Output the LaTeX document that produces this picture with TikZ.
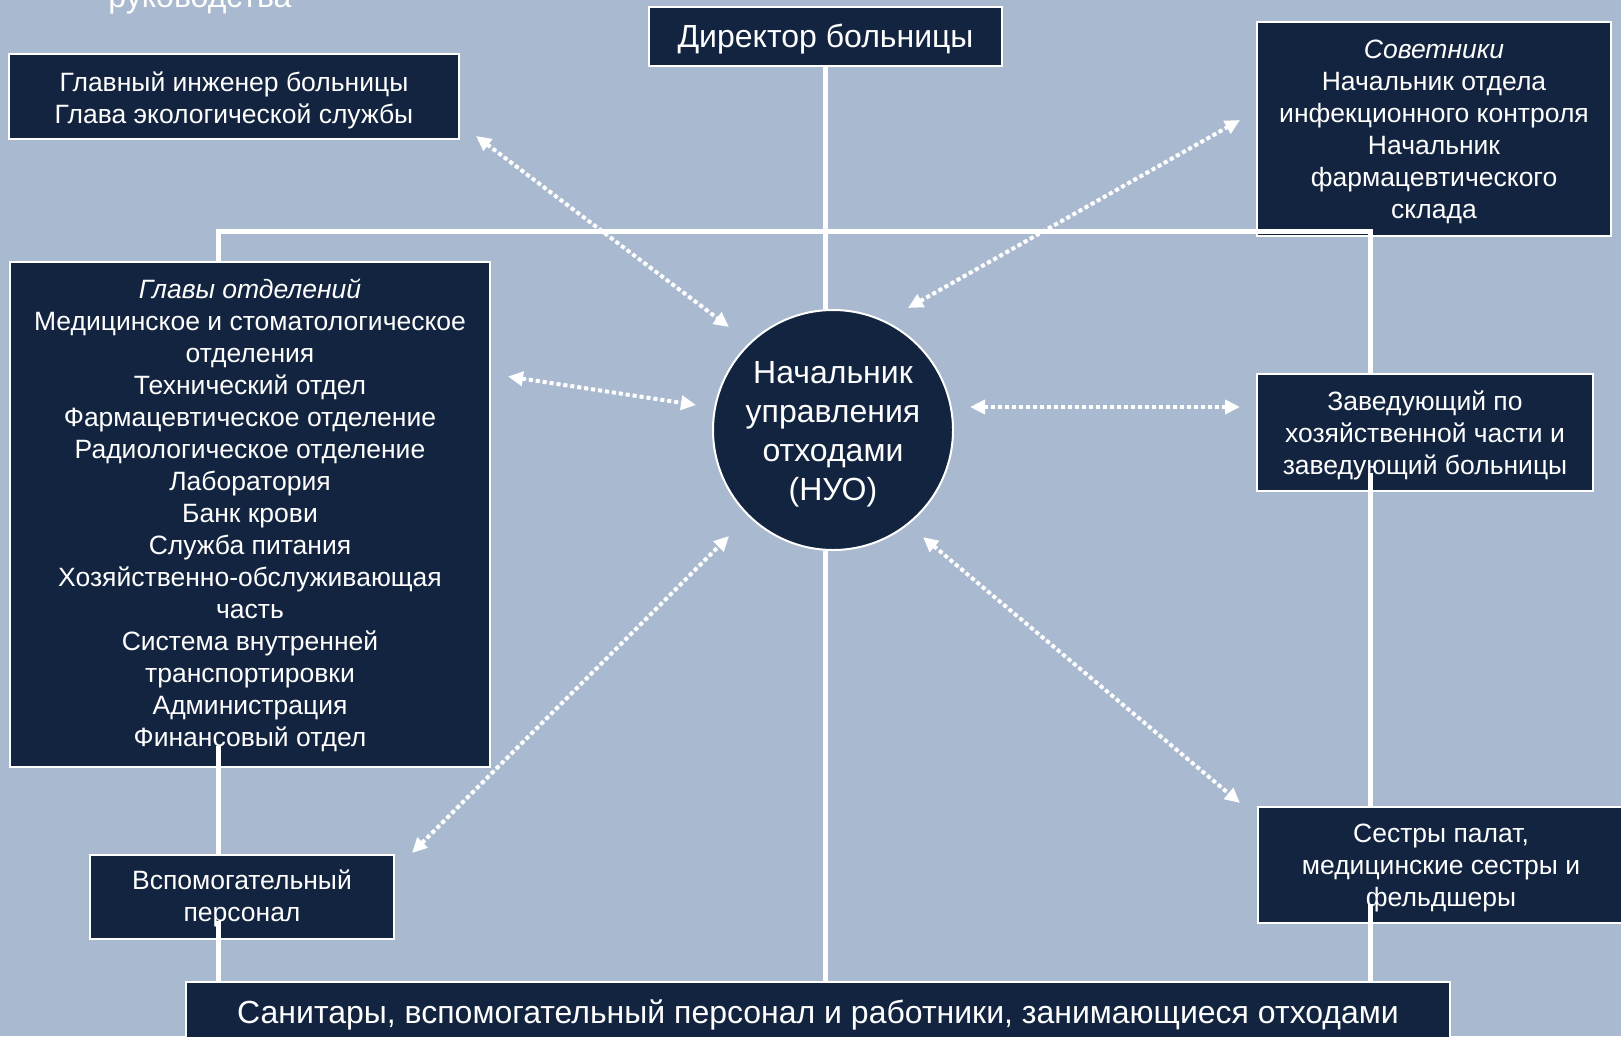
\documentclass[tikz,border=0pt]{standalone}
\usepackage{fontspec}
\setmainfont{Liberation Sans}
\usepackage{xcolor}
\usetikzlibrary{arrows.meta,calc}
\definecolor{cBack}{HTML}{A9B9CF}
\definecolor{cBox}{HTML}{12243F}
\newcommand{\lift}[1]{\rule{0pt}{\dimexpr 0.72em+#1*2\relax}}
\tikzset{
  box/.style  ={draw=white, line width=2pt, fill=cBox, text=white, align=center,
                inner sep=0pt, font=\fontsize{26.5}{32}\selectfont},
  hub/.style  ={box, circle, minimum size=240pt, font=\fontsize{32}{39}\selectfont},
  big/.style  ={font=\fontsize{32}{38}\selectfont},
  link/.style ={draw=white, line width=5pt},
  flow/.style ={{Triangle[length=15pt,width=14pt]}-{Triangle[length=15pt,width=14pt]},
                draw=white, fill=white, line width=4pt, dash pattern=on 4pt off 3pt},
}

\begin{document}
\begin{tikzpicture}[x=1pt,y=-1pt]
    \useasboundingbox (0,0) rectangle (1621,1036);
    \clip (0,0) rectangle (1621,1036);
    \fill[cBack] (0,0) rectangle (1621,1036);
    \node[big, text=white, anchor=base] (ttl) at (200,7) {руководства};
    \node[box, big, minimum width=353pt, minimum height=59pt] (dir) at (825.5,36.5) {\lift{3pt}Директор больницы};
    \node[box, minimum width=450pt, minimum height=85pt] (eng) at (234,96.5) {\lift{4pt}Главный инженер больницы\\Глава экологической службы};
    \node[box, minimum width=354pt, minimum height=214pt] (adv) at (1434,129) {\lift{3pt}\textit{Советники}\\Начальник отдела\\инфекционного контроля\\Начальник\\фармацевтического\\склада};
    \node[box, minimum width=480pt, minimum height=505pt] (heads) at (250,514.5) {\lift{1pt}\textit{Главы отделений}\\Медицинское и стоматологическое\\отделения\\Технический отдел\\Фармацевтическое отделение\\Радиологическое отделение\\Лаборатория\\Банк крови\\Служба питания\\Хозяйственно-обслуживающая\\часть\\Система внутренней\\транспортировки\\Администрация\\Финансовый отдел};
    \node[hub] (nuo) at (833,430) {\lift{4pt}Начальник\\управления\\отходами\\(НУО)};
    \node[box, minimum width=336pt, minimum height=117pt] (mgr) at (1425,432) {\lift{4pt}Заведующий по\\хозяйственной части и\\заведующий больницы};
    \node[box, minimum width=304pt, minimum height=84pt] (aux) at (242,897) {\lift{2pt}Вспомогательный\\персонал};
    \node[box, minimum width=366pt, minimum height=116pt] (nurse) at (1441,865) {\lift{3pt}Сестры палат,\\медицинские сестры и\\фельдшеры};
    \node[box, big, minimum width=1264pt, minimum height=66pt] (san) at (818,1015) {Санитары, вспомогательный персонал и работники, занимающиеся отходами};
    % solid links
    \coordinate (busL) at (218,231);
    \coordinate (busR) at (1370,231);
    \draw[link] (heads.north -| busL) -- (busL) -- (busR) -- (mgr.north -| busR);
    \draw[link] (dir.south) -- (dir.south |- nuo.north);
    \draw[link] (dir.south |- nuo.south) -- (dir.south |- san.north);
    \draw[link] ($(heads.south -| busL)+(0,-22)$) -- (aux.north -| busL);
    \draw[link] ($(aux.south -| busL)+(0,-19)$) -- (san.north -| busL);
    \draw[link] ($(mgr.south -| busR)+(0,-19)$) -- (nurse.north -| busR);
    \draw[link] ($(nurse.south -| busR)+(0,-20)$) -- (san.north -| busR);
    % dotted two-way arrows
    \draw[flow] ([shift={(16,-4)}]eng.south east) -- ([shift={(-104,-103)}]nuo.center);
    \draw[flow] ([shift={(75,-122)}]nuo.center) -- ([shift={(-16,-9)}]adv.west);
    \draw[flow] ([shift={(17,-138)}]heads.east) -- ([shift={(-137,-25)}]nuo.center);
    \draw[flow] ([shift={(137,-23)}]nuo.center) -- ([shift={(-16,-25)}]mgr.west);
    \draw[flow] ([shift={(17,-1)}]aux.north east) -- ([shift={(-104,106)}]nuo.center);
    \draw[flow] ([shift={(90,107)}]nuo.center) -- ([shift={(-17,-3)}]nurse.north west);
\end{tikzpicture}
\end{document}
